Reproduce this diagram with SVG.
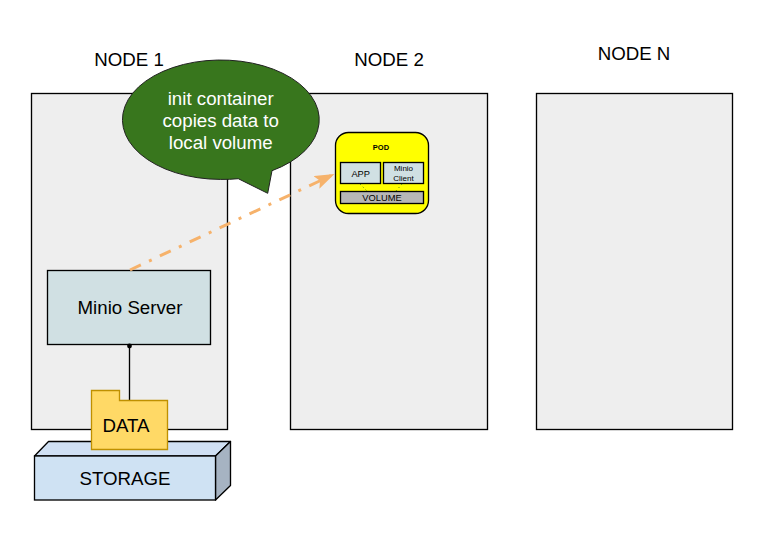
<svg xmlns="http://www.w3.org/2000/svg" width="770" height="540" viewBox="0 0 770 540">
<style>
text{font-family:"Liberation Sans",Arial,sans-serif;text-anchor:middle;fill:#000}
.node{fill:#eeeeee;stroke:#000;stroke-width:1.33}
.box{fill:#d0e0e3;stroke:#000;stroke-width:1.33}
.t18{font-size:18.7px}
.w{fill:#fff;font-size:18.7px}
</style>
<defs>
<marker id="ah" markerUnits="userSpaceOnUse" markerWidth="20" markerHeight="14" refX="20" refY="7" orient="auto" viewBox="0 0 20 14"><path d="M0 0L20 7L0 14L4 7Z" fill="#f6b26b"/></marker>
<marker id="dot" markerUnits="userSpaceOnUse" markerWidth="6" markerHeight="6" refX="3" refY="3" viewBox="0 0 6 6"><circle cx="3" cy="3" r="2.4" fill="#000"/></marker>
</defs>
<rect width="770" height="540" fill="#fff"/>
<g id="node1"><rect class="node" x="31.5" y="93.5" width="196" height="336"/><text class="t18" x="129" y="66">NODE 1</text></g>
<g id="node2"><rect class="node" x="290.5" y="93.5" width="197" height="336"/><text class="t18" x="389" y="66">NODE 2</text></g>
<g id="nodeN"><rect class="node" x="536.5" y="93.5" width="196" height="336"/><text class="t18" x="634" y="60">NODE N</text></g>
<g id="storage">
<path d="M34.5 456L48.5 441.5H230.5L215.5 456Z" fill="#d0e0f3" stroke="#000" stroke-width="1.33" stroke-linejoin="round"/>
<path d="M215.5 456L230.5 441.5V485.5L215.5 500Z" fill="#a6b3c2" stroke="#000" stroke-width="1.33" stroke-linejoin="round"/>
<rect x="34.5" y="456" width="181" height="44" fill="#cfe2f3" stroke="#000" stroke-width="1.33"/>
<text class="t18" x="125" y="485">STORAGE</text>
</g>
<g id="minio-server"><rect class="box" x="47.5" y="270.5" width="163" height="74"/><text class="t18" x="130" y="314">Minio Server</text></g>
<g id="connectors">
<path d="M129.5 346V401" fill="none" stroke="#000" stroke-width="1.33" marker-start="url(#dot)"/>
<path d="M130 270L334.5 174" fill="none" stroke="#f6b26b" stroke-width="3" stroke-dasharray="12 9 3 9" marker-end="url(#ah)"/>
</g>
<g id="data"><path d="M91.5 390.5H119.5V400.5H167.5V449.5H91.5Z" fill="#ffd966" stroke="#bf9000" stroke-width="1.33"/><text class="t18" x="126" y="432">DATA</text></g>
<g id="callout"><path d="M238.3 178.7A98.4 59.7 0 0 1 220.4 179.4A98.4 59.7 0 1 1 272 170.7L267.7 193.3Z" fill="#38761d" stroke="#222" stroke-width="1"/>
<text class="w" x="220.7" y="105">init container</text><text class="w" x="220.7" y="127">copies data to</text><text class="w" x="220.7" y="149">local volume</text></g>
<g id="pod">
<rect x="335.5" y="132.5" width="93" height="81" rx="13" fill="#ffff00" stroke="#000" stroke-width="1.33"/>
<text x="381" y="149.5" style="font-size:7.5px;font-weight:bold">POD</text>
<rect class="box" x="340.5" y="162.5" width="40" height="21"/><text x="360.7" y="176.7" style="font-size:9.3px">APP</text>
<rect class="box" x="383.5" y="162.5" width="40" height="21"/><text x="403.5" y="171" style="font-size:8px">Minio</text><text x="403.5" y="181" style="font-size:8px">Client</text>
<rect x="340.5" y="191.5" width="83" height="12" fill="#b7b7b7" stroke="#000" stroke-width="1.33"/><text x="382" y="200.5" style="font-size:9.3px">VOLUME</text>
<path d="M360 184L367 191M402 184L396 191" fill="none" stroke="#38761d" stroke-width="1" stroke-dasharray="1 3"/>
</g>
</svg>
